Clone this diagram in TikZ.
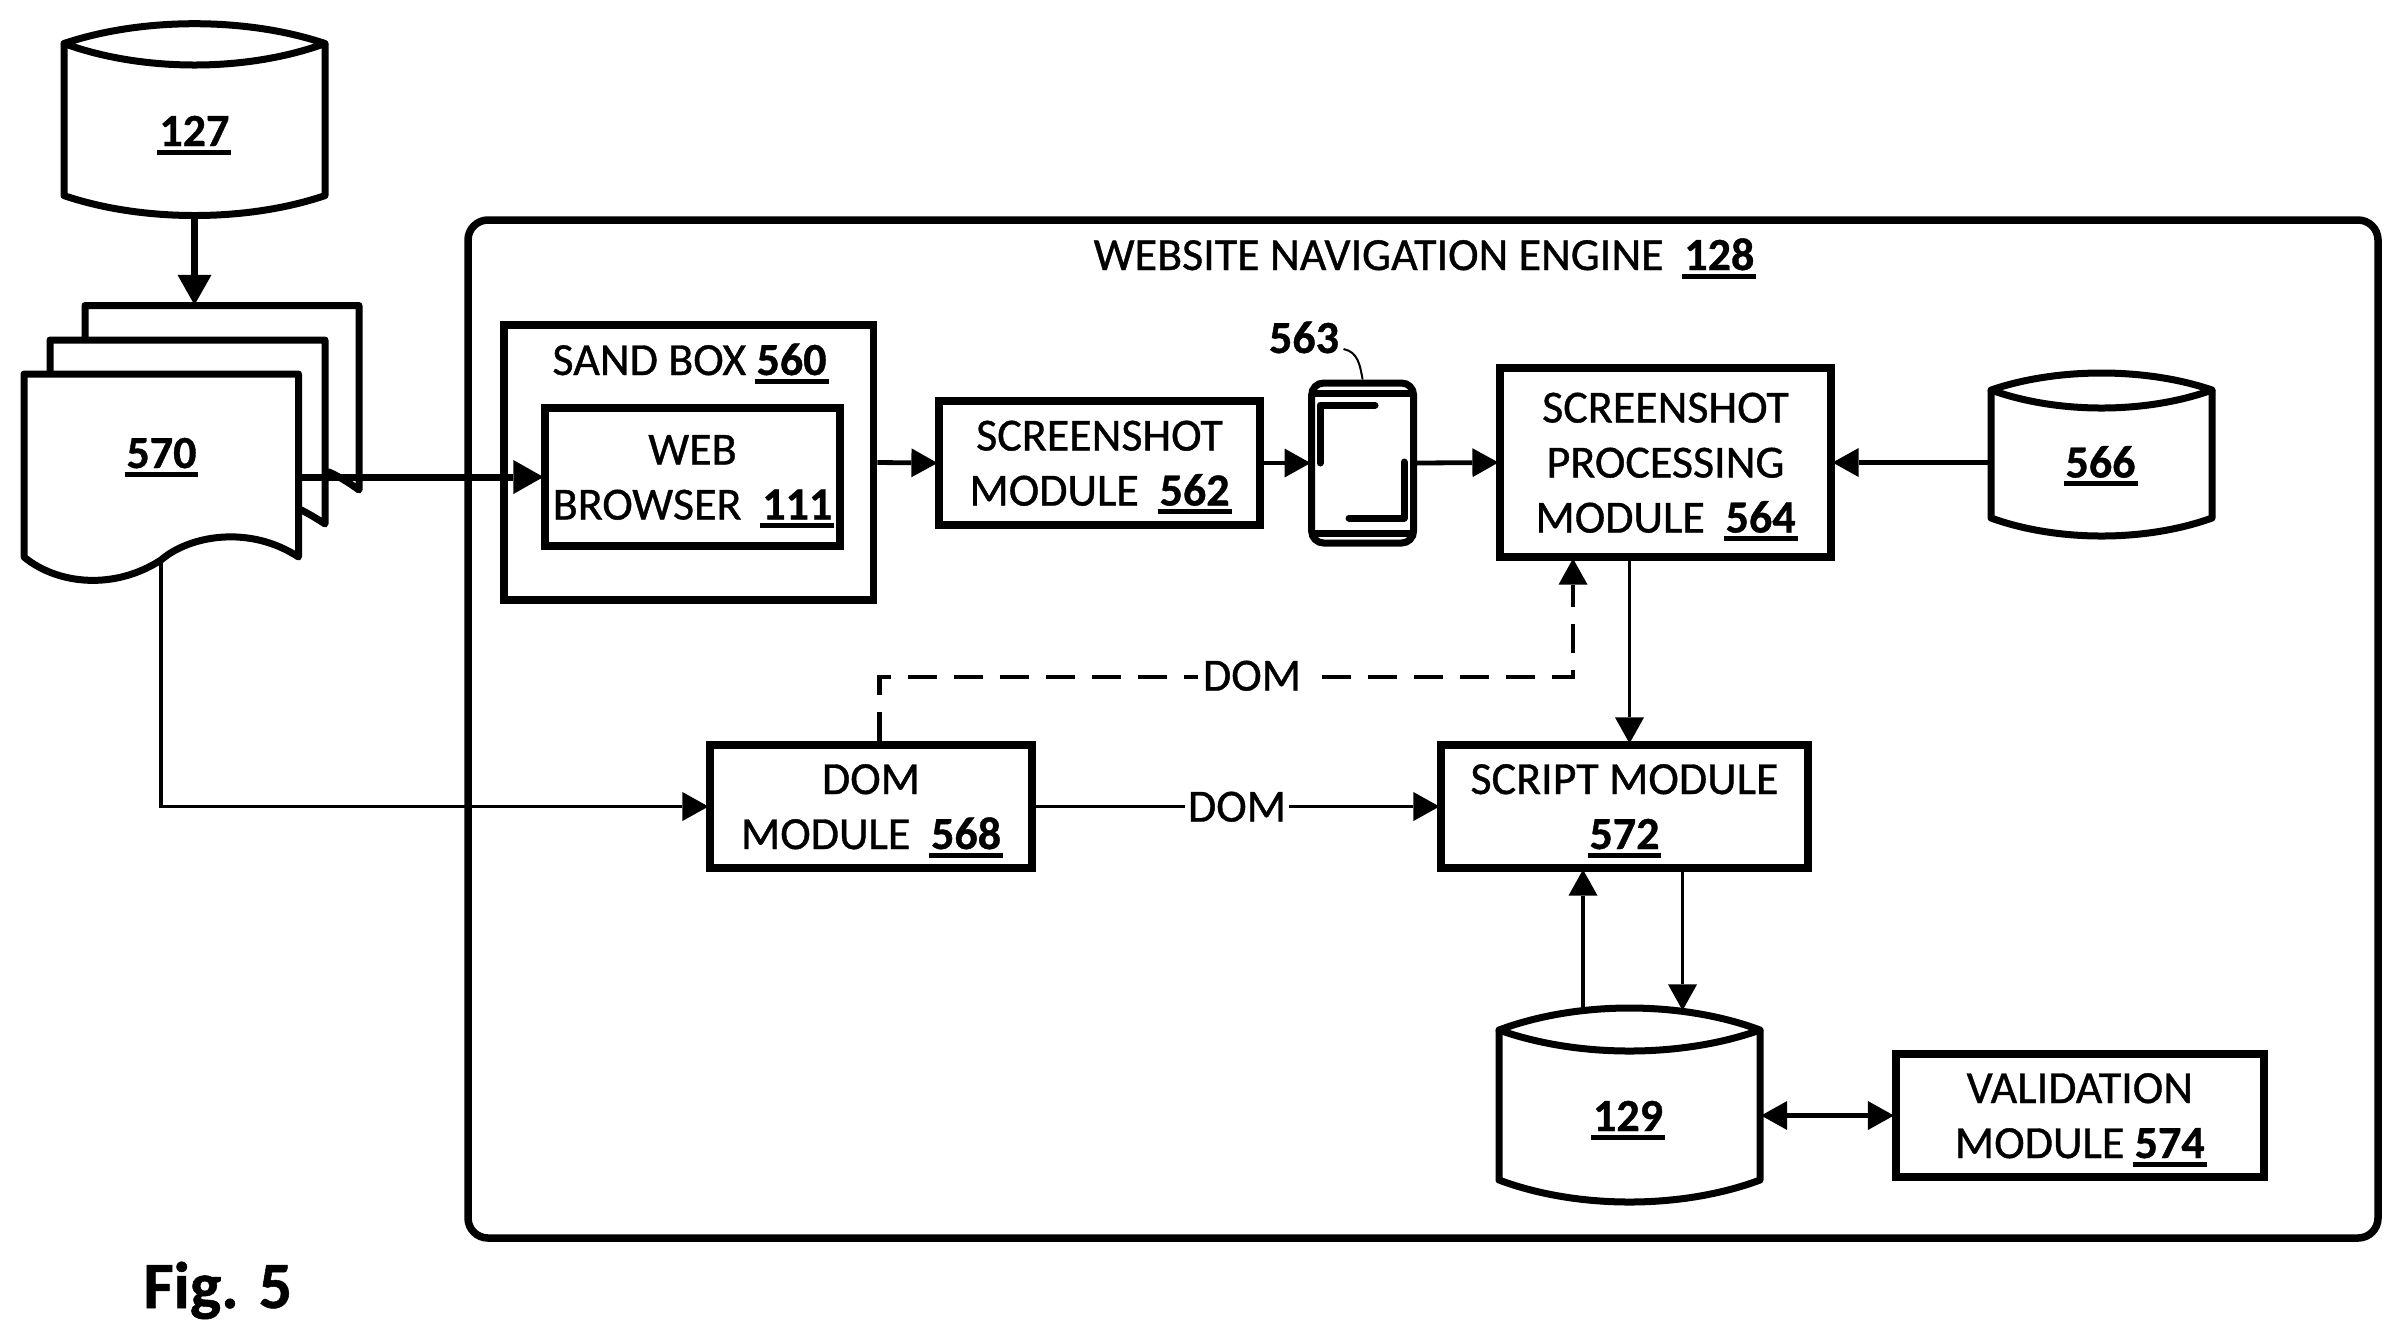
\documentclass[tikz,border=0pt]{standalone}
\usepackage{fontspec}
\setmainfont{Carlito}[FakeBold=0.8]
\usetikzlibrary{arrows.meta,calc}
\newcommand\un[1]{\setbox0\hbox{\bfseries #1}\rlap{\kern-1pt\rule[-4.25pt]{\dimexpr\wd0+2pt\relax}{2.5pt}}\box0}
\newcommand\modbox[6]{\node[modulebox,minimum width=\fpeval{(#4-#2)/2}pt,minimum height=\fpeval{(#5-#3)/2}pt] (#1) at ({(#2+#4)/2},{(#3+#5)/2}) {\rule{0pt}{21pt}#6\rule[-6pt]{0pt}{6pt}};}
% name x1 x2 ycorner ypeak ylower ybotcorner ybottom
\newcommand\cyl[8]{%
  \draw[shapeline,fill=white] (#2,#4)
    .. controls ({#2+(#3-#2)*.3},{#4+(#5-#4)*4/3}) and ({#3-(#3-#2)*.3},{#4+(#5-#4)*4/3}) .. (#3,#4)
    .. controls ({#3-(#3-#2)*.3},{#4+(#6-#4)*4/3}) and ({#2+(#3-#2)*.3},{#4+(#6-#4)*4/3}) .. cycle;
  \draw[shapeline] (#2,#4) -- (#2,#7)
    .. controls ({#2+(#3-#2)*.3},{#7+(#8-#7)*4/3}) and ({#3-(#3-#2)*.3},{#7+(#8-#7)*4/3}) .. (#3,#7) -- (#3,#4);
  \node[hitbox,minimum width=\fpeval{(#3-#2)/2}pt,minimum height=\fpeval{(#8-#5)/2}pt] (#1) at ({(#2+#3)/2},{(#5+#8)/2}) {};}
\tikzset{
  shapeline/.style={line width=3.5pt,line join=round},
  modulebox/.style={draw,line width=4pt,inner sep=0pt,outer sep=2pt,align=center,font=\fontsize{23}{27.5}\selectfont},
  hitbox/.style={inner sep=0pt,outer sep=1.75pt},
  txt/.style={inner sep=0pt,anchor=base,font=\fontsize{23}{27.5}\selectfont},
  flowlabel/.style={txt,fill=white,inner sep=1.5pt},
  bigflow/.style={line width=3.5pt,shorten >=-1.2pt,-{Triangle[length=15pt,width=17pt,line width=0pt]}},
  midflow/.style={line width=2.4pt,shorten >=-1.2pt,-{Triangle[length=13pt,width=14.5pt,line width=0pt]}},
  thinflow/.style={line width=1.9pt,shorten >=-1.2pt,-{Triangle[length=13pt,width=14.5pt,line width=0pt]}},
  bothflow/.style={line width=2.4pt,shorten >=-1.2pt,shorten <=-1.2pt,{Triangle[length=13pt,width=14.5pt,line width=0pt]}-{Triangle[length=13pt,width=14.5pt,line width=0pt]}},
}
\begin{document}
\begin{tikzpicture}[x=0.5pt,y=-0.5pt]
\useasboundingbox (0,0) rectangle (2402,1341);
\fill[white] (0,0) rectangle (2402,1341);

% engine frame
\draw[line width=3.75pt,rounded corners=10pt] (468,220) rectangle (2378,1238);
\node[txt] (title) at (1424,270) {WEBSITE NAVIGATION ENGINE\ \ \un{128}};

% document stack
\draw[shapeline,fill=white] (85,305.5) -- (359,305.5) -- (359,490)
  .. controls (348,482) and (338,476) .. (329,472) -- (85,472) -- cycle;
\draw[shapeline,fill=white] (50,340) -- (325,340) -- (325,524)
  .. controls (316,518) and (306,512) .. (295,507) -- (50,507) -- cycle;
\draw[shapeline,fill=white] (24,374) -- (298.5,374) -- (298.5,557)
  .. controls (250,525) and (190,535) .. (161,560)
  .. controls (115,590) and (58,585) .. (24,557) -- cycle;
\node[hitbox,minimum width=137pt,minimum height=102pt] (doc3) at (222,408) {};
\node[hitbox,minimum width=137pt,minimum height=102pt] (doc1) at (161,476) {};
\node[txt] (t570) at (161.5,468) {\un{570}};
\coordinate (docfoot) at (161,561);

% cylinders
\cyl{c127}{64}{325}{43.5}{23.7}{65}{195.6}{215.5}
\node[txt] (t127) at (194.4,146) {\un{127}};
\cyl{c566}{1991}{2212}{390}{373}{408}{518}{536}
\node[txt] (t566) at (2100.5,477.5) {\un{566}};
\cyl{c129}{1499}{1760}{1030}{1008}{1051}{1180}{1202}
\node[txt] (t129) at (1628,1131) {\un{129}};

% modules
\draw[line width=3.75pt] (504,325) rectangle (873.5,600);
\node[hitbox,outer sep=1.9pt,minimum width=184.75pt,minimum height=137.5pt] (sand) at (688.75,462.5) {};
\node[txt] (t560) at (689.5,375) {SAND BOX \un{560}};
\modbox{web}{545}{408}{840}{546}{WEB\\BROWSER\ \ \un{111}}
\modbox{shot}{939}{401}{1260}{525}{SCREENSHOT\\MODULE\ \ \un{562}}
\modbox{proc}{1500}{368}{1831}{557}{SCREENSHOT\\PROCESSING\\MODULE\ \ \un{564}}
\modbox{dom}{710}{745}{1032}{868}{DOM\\MODULE\ \ \un{568}}
\modbox{script}{1441}{745}{1808}{868}{SCRIPT MODULE\\\un{572}}
\modbox{valid}{1895.5}{1054}{2264}{1177}{VALIDATION\\MODULE \un{574}}

% phone
\draw[line width=3.5pt,rounded corners=6pt] (1311.6,383) rectangle (1413.6,543);
\node[hitbox,minimum width=51pt,minimum height=80pt] (phone) at (1362.6,463) {};
\draw[line width=3.5pt] (1311.6,393.5) -- (1413.6,393.5) (1311.6,533) -- (1413.6,533);
\draw[line width=3.5pt,line cap=round,line join=round] (1320,463) -- (1320,405) -- (1375,405);
\draw[line width=3.5pt,line cap=round,line join=round] (1404,462) -- (1404,518) -- (1349,518);
\node[txt] (t563) at (1304,353) {\textbf{563}};
\coordinate (leader) at (1343.5,349);
\draw[line width=1pt] (leader) .. controls (1358,352) and (1360,365) .. (phone.north);

% connectors
\draw[bigflow] (c127.south) -- (c127.south |- doc3.north);
\draw[bigflow] (web.west -| doc1.east) -- (web.west);
\draw[midflow] (sand.east) -- (shot.west);
\draw[midflow] (shot.east) -- (phone.west);
\draw[midflow] (phone.east) -- (proc.west);
\draw[midflow] (c566.west |- proc.east) -- (proc.east);
\coordinate (xdown) at (1629.5,0);
\draw[thinflow] (xdown |- proc.south) -- (xdown |- script.north);
\draw[thinflow] (docfoot) |- (dom.west);
\draw[thinflow] (dom.east) -- (script.west);
\coordinate (xdash) at (879.5,0);
\coordinate (xdashup) at (1573,0);
\coordinate (ydash) at (0,677);
\draw[thinflow,line width=2.1pt,dash pattern=on 14.5pt off 8.5pt] (xdash |- dom.north) -- (xdash |- ydash) -- (xdashup |- ydash) -- (xdashup |- proc.south);
\coordinate (upfoot) at (1583,1012);
\coordinate (downtip) at (1682.5,1008);
\draw[thinflow] (upfoot) -- (upfoot |- script.south);
\draw[thinflow] (downtip |- script.south) -- (downtip);
\draw[bothflow] (c129.east |- valid.west) -- (valid.west);

% labels on connectors
\node[flowlabel,inner sep=2.5pt] (dom1) at (1252,690.5) {DOM};
\node[flowlabel] (dom2) at (1237,821.5) {DOM};

\node[inner sep=0pt,anchor=base west,font=\fontsize{33}{40}\selectfont\bfseries] (fig) at (143,1308) {Fig. 5};
\end{tikzpicture}
\end{document}
